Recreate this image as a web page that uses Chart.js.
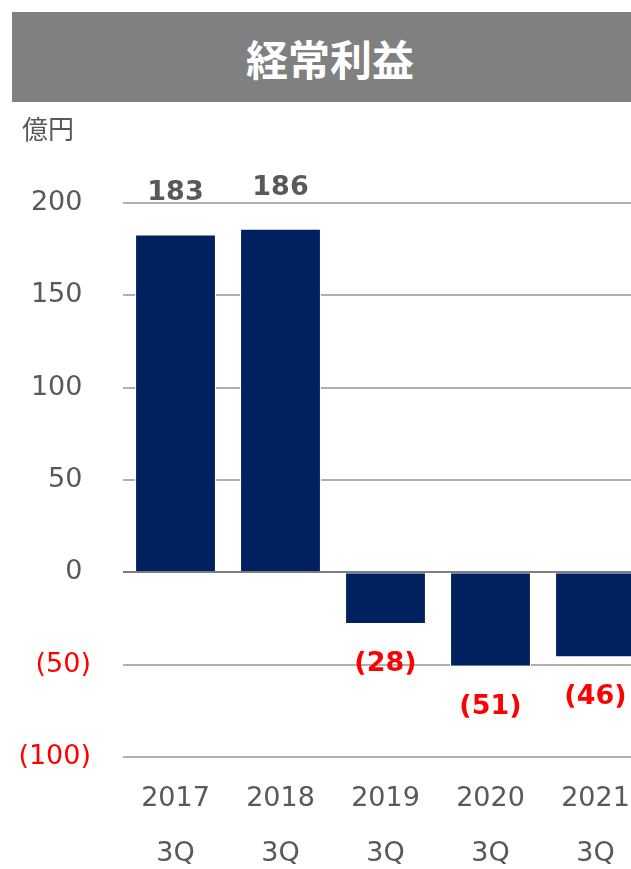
<!DOCTYPE html>
<html>
<head>
<meta charset="utf-8">
<script src="https://cdn.jsdelivr.net/npm/chart.js@4.4.1/dist/chart.umd.min.js"></script>
<style>
  body { margin: 0; overflow: hidden; background: #fff; width: 631px; height: 869px; position: relative; }
  #titleBar {
    position: absolute; left: 12px; top: 12px; width: 636px; height: 90px;
    background: #808080; color: #fff;
    font: bold 42px "Noto Sans CJK JP", sans-serif;
    display: flex; align-items: center; justify-content: center; z-index: 2;
  }
  #unit {
    position: absolute; left: 22px; top: 109px; z-index: 2;
    font: 26px "Noto Sans CJK JP", sans-serif; color: #595959;
  }
  #myChart { position: absolute; left: 0; top: 0; }
</style>
</head>
<body>
<div id="titleBar">経常利益</div>
<div id="unit">億円</div>
<canvas id="myChart" width="660" height="869"></canvas>
<script>
// data
var years = ['2017', '2018', '2019', '2020', '2021'];
var quarters = ['3Q', '3Q', '3Q', '3Q', '3Q'];
var profit = [183, 186, -28, -51, -46];
var yTicks = [200, 150, 100, 50, 0, -50, -100];

var grey = '#595959';
var red = '#ff0000';

function fmt(v) {
  return v < 0 ? '(' + Math.abs(v) + ')' : String(v);
}

// value labels, 40px outside the bar end
var valueLabels = {
  id: 'valueLabels',
  afterDatasetsDraw(chart) {
    var c = chart.ctx;
    var meta = chart.getDatasetMeta(0);
    c.save();
    c.font = 'bold 27px "DejaVu Sans"';
    c.textAlign = 'center';
    c.textBaseline = 'middle';
    meta.data.forEach((bar, i) => {
      var v = profit[i];
      c.fillStyle = v < 0 ? red : grey;
      var y = v < 0 ? bar.y + 40 : bar.y - 41;
      c.fillText(fmt(v), bar.x, y);
    });
    c.restore();
  }
};

const ctx = document.getElementById('myChart');
const chart = new Chart(ctx, {
  type: 'bar',
  data: {
    labels: years.map((y, i) => [y, quarters[i]]),
    datasets: [{
      data: profit,
      backgroundColor: '#002060',
      borderColor: '#ffffff',
      borderWidth: 1,
      barPercentage: 0.77,
      categoryPercentage: 1
    }]
  },
  options: {
    responsive: false,
    animation: false,
    layout: { padding: { top: 203, right: 12, left: 0, bottom: 0 } },
    plugins: {
      legend: { display: false },
      tooltip: { enabled: false }
    },
    scales: {
      x: {
        grid: { display: false, drawTicks: false },
        border: { display: false },
        ticks: {
          color: grey,
          padding: 14,
          font: { family: 'DejaVu Sans', size: 27, lineHeight: '55px' }
        },
        afterFit(scale) { scale.height = 112; }
      },
      y: {
        min: -100,
        max: 200,
        afterBuildTicks(scale) { scale.ticks = yTicks.map(v => ({ value: v })); },
        grid: {
          drawTicks: false,
          lineWidth: 2,
          color: (c) => c.tick && c.tick.value === 0 ? '#7f7f7f' : '#b0b0b0'
        },
        border: { display: false },
        ticks: {
          padding: 32,
          font: { family: 'DejaVu Sans', size: 27 },
          color: (c) => c.tick && c.tick.value < 0 ? red : grey,
          callback: (v) => v < 0 ? fmt(v) : v + ' '
        },
        afterFit(scale) { scale.width = 123; }
      }
    }
  },
  plugins: [valueLabels]
});
</script>
</body>
</html>
